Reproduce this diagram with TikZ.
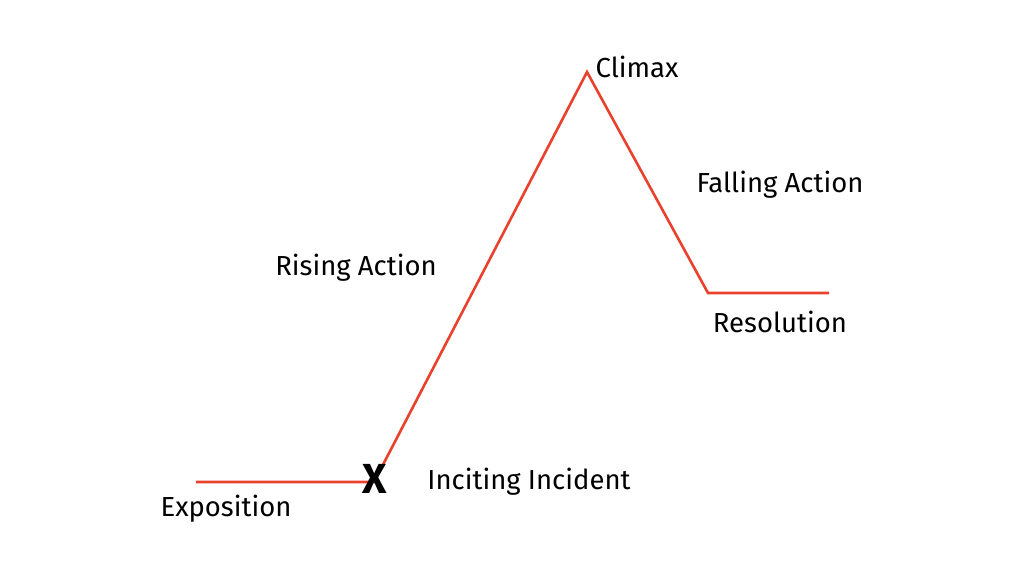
\documentclass[tikz,border=0pt]{standalone}
\usepackage{fontspec}
\setmainfont{Fira Sans}
\definecolor{plotred}{HTML}{E8412C}

\begin{document}
\begin{tikzpicture}[x=1pt, y=-1pt, label/.style={font=\fontsize{27.5}{32}\selectfont, inner sep=0pt}, arc/.style={plotred, line width=2.6pt, line join=miter}]
	\useasboundingbox (0,0) rectangle (1024,576);
	\coordinate (start) at (196,482);
	\coordinate (incite) at (374,482);
	\coordinate (peak) at (587,72);
	\coordinate (fall) at (708,293);
	\coordinate (finish) at (829,293);
	\draw [arc] (start) -- (incite) -- (peak) -- (fall) -- (finish);
	\node [font=\fontsize{42}{44}\bfseries\selectfont, inner sep=0pt] (mark) at (375,479) {X};
	\node [label] (expo) at (226,509) {Exposition};
	\node [label] (inc) at (529,482) {Inciting Incident};
	\node [label] (rise) at (356,268) {Rising Action};
	\node [label] (clim) at (637,67) {Climax};
	\node [label] (falling) at (780,185) {Falling Action};
	\node [label] (resol) at (780,322) {Resolution};
\end{tikzpicture}
\end{document}
